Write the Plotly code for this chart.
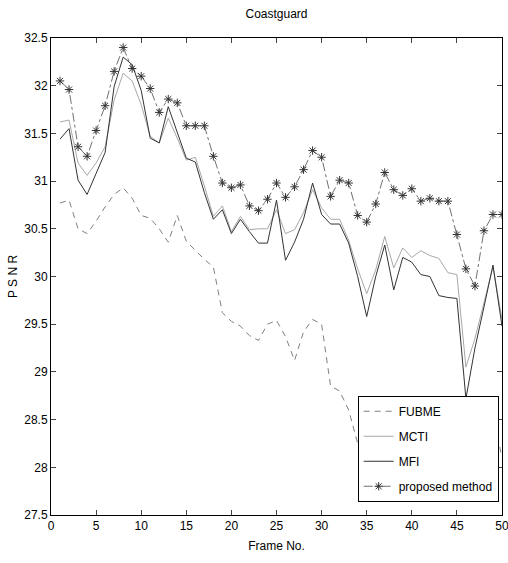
import plotly.graph_objects as go

frames = list(range(1, 51))

fubme = [30.77, 30.80, 30.50, 30.45, 30.58, 30.73, 30.86, 30.93, 30.82, 30.64,
         30.61, 30.50, 30.36, 30.64, 30.37, 30.27, 30.18, 30.10, 29.62, 29.53,
         29.48, 29.38, 29.33, 29.50, 29.54, 29.37, 29.12, 29.42, 29.55, 29.50,
         28.85, 28.80, 28.60, 28.25, 28.10, 28.30, 28.45, 28.20, 28.35, 28.30,
         28.25, 28.20, 28.15, 28.10, 28.00, 27.95, 28.10, 28.35, 28.55, 28.10]

mcti = [31.62, 31.64, 31.19, 31.06, 31.19, 31.36, 31.85, 32.13, 32.05, 31.80,
        31.47, 31.40, 31.66, 31.45, 31.22, 31.25, 30.95, 30.63, 30.74, 30.47,
        30.63, 30.49, 30.50, 30.50, 30.70, 30.45, 30.49, 30.67, 30.91, 30.72,
        30.60, 30.60, 30.38, 30.08, 29.82, 30.07, 30.42, 30.09, 30.30, 30.20,
        30.27, 30.22, 30.19, 30.04, 30.02, 29.05, 29.35, 29.72, 30.10, 29.55]

mfi = [31.44, 31.55, 31.01, 30.86, 31.08, 31.30, 31.99, 32.30, 32.22, 31.95,
       31.45, 31.40, 31.78, 31.50, 31.24, 31.20, 30.88, 30.60, 30.70, 30.45,
       30.60, 30.47, 30.35, 30.35, 30.80, 30.17, 30.36, 30.60, 30.98, 30.65,
       30.55, 30.55, 30.35, 30.00, 29.58, 30.00, 30.33, 29.86, 30.20, 30.15,
       30.02, 30.00, 29.80, 29.78, 29.77, 28.72, 29.25, 29.68, 30.12, 29.48]

proposed = [32.05, 31.96, 31.36, 31.26, 31.53, 31.79, 32.15, 32.40, 32.18, 32.10,
            31.97, 31.72, 31.86, 31.82, 31.58, 31.58, 31.58, 31.26, 30.98, 30.93,
            30.96, 30.74, 30.69, 30.81, 30.98, 30.83, 30.94, 31.12, 31.32, 31.25,
            30.84, 31.01, 30.98, 30.64, 30.57, 30.76, 31.09, 30.91, 30.85, 30.92,
            30.79, 30.82, 30.79, 30.79, 30.44, 30.08, 29.90, 30.48, 30.65, 30.65]

x_ticks = list(range(0, 51, 5))
y_ticks = [27.5, 28, 28.5, 29, 29.5, 30, 30.5, 31, 31.5, 32, 32.5]
y_tick_text = ["27.5", "28", "28.5", "29", "29.5", "30", "30.5", "31", "31.5", "32", "32.5"]

FONT = "Liberation Sans Narrow, Liberation Sans, Arial, sans-serif"

fig = go.Figure()
fig.add_trace(go.Scatter(x=frames, y=fubme, mode="lines", name="FUBME",
                         legendgroup="a",
                         line=dict(color="#808080", width=1, dash="6px,5px")))
fig.add_trace(go.Scatter(x=frames, y=mcti, mode="lines", name="MCTI",
                         legendgroup="b",
                         line=dict(color="#a8a8a8", width=1)))
fig.add_trace(go.Scatter(x=frames, y=mfi, mode="lines", name="MFI",
                         legendgroup="c",
                         line=dict(color="#333333", width=1)))
fig.add_trace(go.Scatter(x=frames, y=proposed, mode="lines+markers", name="proposed method",
                         legendgroup="d",
                         line=dict(color="#707070", width=1, dash="dashdot"),
                         marker=dict(symbol="asterisk-open", size=7, color="#333333",
                                     line=dict(width=1, color="#333333"))))

fig.update_layout(
    width=508, height=563,
    margin=dict(l=51, r=6, t=38, b=48, autoexpand=False),
    paper_bgcolor="white", plot_bgcolor="white",
    font=dict(family=FONT, size=12, color="black"),
    title=dict(text="Coastguard", x=0.5, xref="paper", y=1 - 14 / 563,
               yref="container", yanchor="middle", xanchor="center",
               font=dict(family=FONT, size=12, color="black")),
    showlegend=True,
    legend=dict(x=0.68, y=0.25, xanchor="left", yanchor="top",
                bgcolor="white", bordercolor="black", borderwidth=1,
                tracegroupgap=6, itemwidth=30,
                font=dict(family=FONT, size=12, color="black")),
)
fig.update_xaxes(range=[0, 50], tickvals=x_ticks, ticks="inside", ticklen=5,
                 showline=True, linecolor="black", linewidth=1, mirror="allticks",
                 showgrid=False, zeroline=False, ticklabeloverflow="allow",
                 automargin=False,
                 title=dict(text="Frame No.", standoff=9,
                            font=dict(family=FONT, size=12)))
fig.update_yaxes(range=[27.5, 32.5], tickvals=y_ticks, ticktext=y_tick_text,
                 ticks="inside", ticklen=5,
                 showline=True, linecolor="black", linewidth=1, mirror="allticks",
                 showgrid=False, zeroline=False, automargin=False,
                 title=dict(text="P S N R", standoff=4,
                            font=dict(family=FONT, size=12)))

fig.write_html("out.html")
